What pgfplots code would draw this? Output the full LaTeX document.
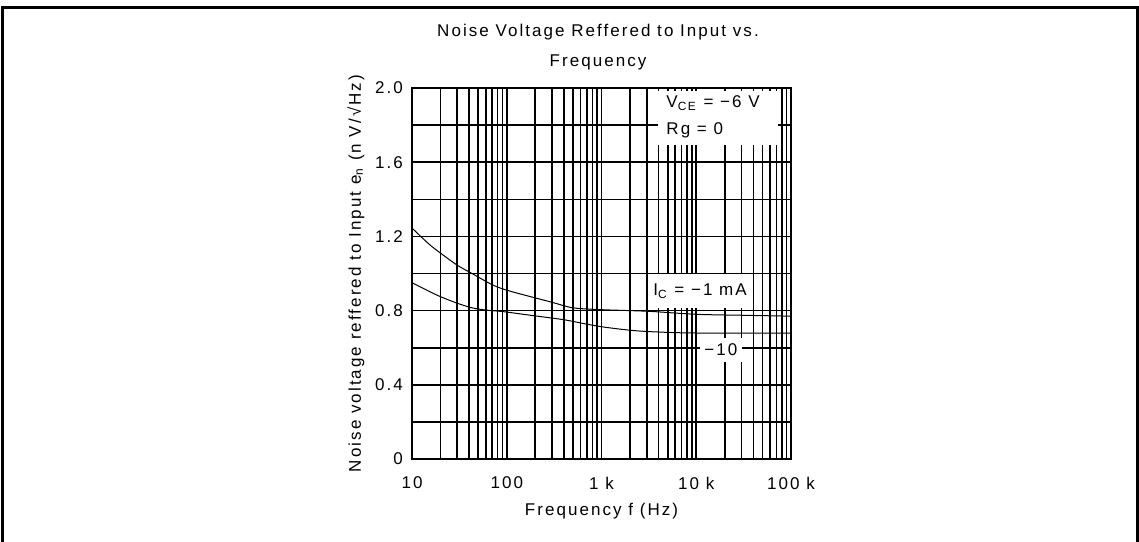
\documentclass[border=0pt]{standalone}
\usepackage{fontspec}
\setmainfont{Liberation Sans}[LetterSpace=12]
\usepackage{pgfplots}
\pgfplotsset{compat=1.18}

\begin{document}
\begin{tikzpicture}
\useasboundingbox (0,0) rectangle (569.5pt,-270.5pt);
\fontsize{8.5}{10}\selectfont

% frame round the picture (no bottom edge)
\draw[line width=1.5pt] (1pt,-272pt) -- (1pt,-3.75pt) -- (568.5pt,-3.75pt) -- (568.5pt,-272pt);

\node[align=center, font=\fontsize{8.5}{15}\selectfont] at (299pt,-23.5pt)
  {Noise Voltage Reffered to Input vs.\\Frequency};

\begin{axis}[
    at={(206pt,-229.5pt)}, anchor=south west,
    scale only axis,
    width=189.5pt, height=185.5pt,
    xmode=log,
    xmin=10, xmax=100000,
    ymin=0, ymax=2,
    xtick={10,100,1000,10000,100000},
    xticklabels={10,100,1 k,10 k,100 k},
    ytick={0,0.2,0.4,0.6,0.8,1.0,1.2,1.4,1.6,1.8,2.0},
    yticklabels={0,,0.4,,0.8,,1.2,,1.6,,2.0},
    grid=both,
    major grid style={black, line width=0.8pt},
    minor grid style={black, line width=0.8pt},
    major tick length=0pt, minor tick length=0pt,
    axis line style={line width=1.1pt},
    /pgf/number format/assume math mode=true,
    tick label style={font=\fontsize{8.5}{10}\selectfont},
    x tick label style={yshift=-6pt},
    y tick label style={xshift=-1.5pt},
    xlabel={Frequency f (Hz)},
    ylabel={Noise voltage reffered to Input e\textsubscript{n} (n V/√Hz)},
    label style={font=\fontsize{8.5}{10}\selectfont},
    xlabel style={yshift=-1pt},
    ylabel style={yshift=-0.5pt},
    clip=false,
]
    % I_C = -1 mA
    \addplot[black, line width=0.5pt, smooth] coordinates {
        (10,1.245) (15,1.16) (20,1.11) (30,1.045) (43,1.0) (70,0.94)
        (100,0.91) (185,0.873) (300,0.845) (500,0.815) (1000,0.805)
        (2000,0.80) (3500,0.795) (10000,0.78) (30000,0.775) (100000,0.77)
    };
    % I_C = -10 mA
    \addplot[black, line width=0.5pt, smooth] coordinates {
        (10,0.95) (15,0.905) (20,0.875) (30,0.84) (43,0.815) (60,0.803)
        (90,0.795) (150,0.78) (250,0.765) (410,0.75) (700,0.727)
        (1100,0.71) (2500,0.69) (7600,0.68) (30000,0.679) (100000,0.678)
    };

    \node[fill=white, minimum width=60pt, minimum height=27pt, inner sep=0pt]
        at (axis cs:17000,1.84) {};
    \node[anchor=west, inner sep=0pt] at (axis cs:4800,1.92)
        {V\textsubscript{CE} = −6 V};
    \node[anchor=west, inner sep=0pt] at (axis cs:4800,1.77)
        {Rg = 0};

    \node[fill=white, minimum width=50pt, minimum height=17pt, inner sep=0pt]
        at (axis cs:10960,0.905) {I\textsubscript{C} = −1 mA};
    \node[fill=white, minimum width=21pt, minimum height=12pt, inner sep=0pt]
        at (axis cs:18200,0.59) {−10};
\end{axis}
\end{tikzpicture}
\end{document}
